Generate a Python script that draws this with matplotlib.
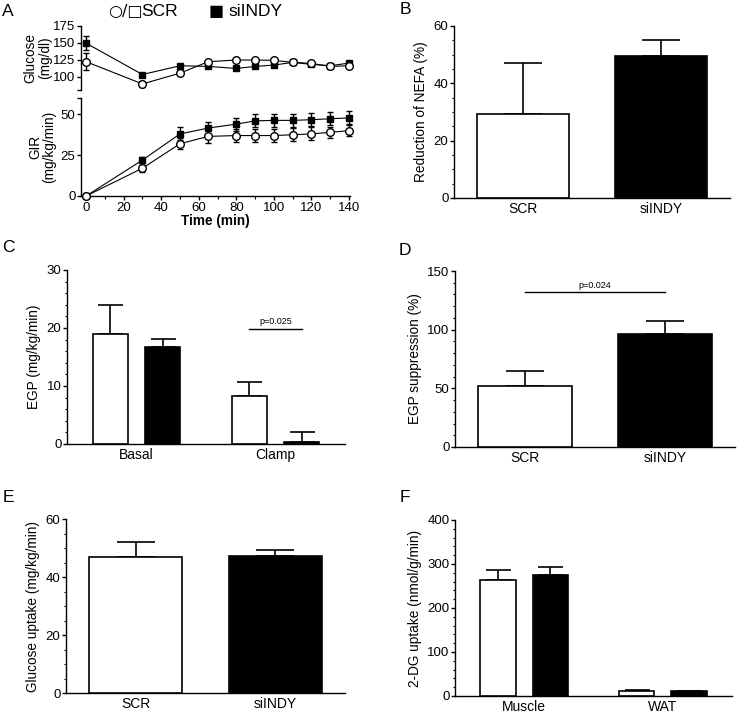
import numpy as np
import matplotlib
matplotlib.use("Agg")
import matplotlib.pyplot as plt
from matplotlib.ticker import AutoMinorLocator, MultipleLocator

plt.rcParams['font.family'] = ['Liberation Sans', 'DejaVu Sans']
plt.rcParams['font.size'] = 9
plt.rcParams['axes.linewidth'] = 1.0

# ---- data ----
time = [0, 30, 50, 65, 80, 90, 100, 110, 120, 130, 140]
glu_scr = [122, 89, 105, 122, 124.5, 124.5, 124, 121, 119.5, 115, 116]
glu_scr_err = [13, 4, 2, 3, 2, 2, 2, 2, 2, 2, 2]
glu_si = [149.5, 103, 116, 115, 112, 115, 117, 121, 118, 116, 120]
glu_si_err = [10, 2, 2, 2, 2, 2, 2, 2, 2, 2, 2]
gir_scr = [0, 17, 32, 36.5, 37, 37, 37, 37.5, 38, 39, 40]
gir_scr_err = [0.5, 2, 3.5, 4, 4, 4, 4, 4, 4, 3.5, 3.5]
gir_si = [0, 22, 38, 41.6, 44, 46, 46.3, 46.3, 46.7, 47.3, 47.8]
gir_si_err = [0.5, 2, 4, 4, 4, 4, 4, 4, 4, 4, 4]

groups = ['SCR', 'siINDY']
nefa = [29.2, 49.7]
nefa_err = [17.8, 5.4]

egp_cats = ['Basal', 'Clamp']
egp_scr = [18.9, 8.2]
egp_scr_err = [5.0, 2.5]
egp_si = [16.7, 0.3]
egp_si_err = [1.4, 1.8]

egp_supp = [52.4, 96.5]
egp_supp_err = [12.5, 11.1]

glc_uptake = [46.8, 47.1]
glc_uptake_err = [5.4, 2.2]

dg_cats = ['Muscle', 'WAT']
dg_scr = [263, 11.4]
dg_scr_err = [24, 2.3]
dg_si = [276, 10.6]
dg_si_err = [17, 1.4]

W, H = 740, 713
fig = plt.figure(figsize=(W / 100, H / 100), dpi=100)

TICK = 9.5
LABEL = 9.8


def axes_px(left, top, right, bottom):
    return fig.add_axes([left / W, 1 - bottom / H, (right - left) / W, (bottom - top) / H])


def style(ax, ymax, major, nminor):
    for s in ['top', 'right']:
        ax.spines[s].set_visible(False)
    ax.set_ylim(0, ymax)
    ax.yaxis.set_major_locator(MultipleLocator(major))
    ax.yaxis.set_minor_locator(AutoMinorLocator(nminor))
    ax.tick_params(axis='y', direction='out', length=3, width=1, labelsize=TICK, pad=1)
    ax.tick_params(axis='y', which='minor', length=1.8, width=0.8)
    ax.tick_params(axis='x', length=0, labelsize=10, pad=3)


def two_bars(ax, vals, errs, capsize):
    x = np.arange(len(vals))
    colors = ['white', 'black']
    ax.bar(x, vals, width=0.67, color=colors, edgecolor='black', linewidth=1.2, zorder=3)
    ax.errorbar(x, vals, yerr=[np.zeros(len(vals)), errs], fmt='none', ecolor='black',
                elinewidth=1.2, capsize=capsize, capthick=1.2, zorder=2)
    ax.set_xlim(-0.5, 1.5)
    ax.set_xticks(x)
    ax.set_xticklabels(groups)


def grouped_bars(ax, scr, scr_err, si, si_err, cats, capsize):
    x = np.arange(len(cats))
    off, w = 0.188, 0.256
    ax.bar(x - off, scr, width=w, color='white', edgecolor='black', linewidth=1.2, zorder=3)
    ax.bar(x + off, si, width=w, color='black', edgecolor='black', linewidth=1.2, zorder=3)
    ax.errorbar(x - off, scr, yerr=[np.zeros(len(scr)), scr_err], fmt='none', ecolor='black',
                elinewidth=1.2, capsize=capsize, capthick=1.2, zorder=2)
    ax.errorbar(x + off, si, yerr=[np.zeros(len(si)), si_err], fmt='none', ecolor='black',
                elinewidth=1.2, capsize=capsize, capthick=1.2, zorder=2)
    ax.set_xlim(-0.5, 1.5)
    ax.set_xticks(x)
    ax.set_xticklabels(cats)
    return off


# ---- panel A ----
axg = axes_px(81, 26, 350, 90)
axr = axes_px(81, 98, 350, 196)
for ax in (axg, axr):
    ax.set_xlim(-2.7, 140.5)
    ax.spines['top'].set_visible(False)
    ax.spines['right'].set_visible(False)
    ax.tick_params(axis='y', direction='out', length=3, width=1, labelsize=TICK, pad=1)
axg.spines['bottom'].set_visible(False)
axg.set_xticks([])
axg.set_ylim(80, 175)
axg.set_yticks([80, 100, 125, 150, 175])
axg.set_yticklabels(['', '100', '125', '150', '175'])
axr.set_ylim(0, 60)
axr.set_yticks([0, 25, 50, 60])
axr.set_yticklabels(['0', '25', '50', ''])
axr.set_xticks(range(0, 141, 20))
axr.xaxis.set_minor_locator(MultipleLocator(10))
axr.tick_params(axis='x', direction='out', length=3, width=1, labelsize=TICK, pad=1)
axr.tick_params(axis='x', which='minor', length=2, width=0.8)

for ax, s, se, g, ge in ((axg, glu_scr, glu_scr_err, glu_si, glu_si_err),
                         (axr, gir_scr, gir_scr_err, gir_si, gir_si_err)):
    ax.errorbar(time, g, yerr=ge, color='black', marker='s', markersize=5, mfc='black',
                mec='black', lw=0.8, elinewidth=1, capsize=2.5, capthick=1, zorder=3,
                clip_on=False)
    ax.errorbar(time, s, yerr=se, color='black', marker='o', markersize=5.5, mfc='white',
                mec='black', mew=1, lw=0.8, elinewidth=1, capsize=2.5, capthick=1, zorder=4,
                clip_on=False)

axg.set_ylabel('Glucose\n(mg/dl)', fontsize=LABEL, labelpad=1, linespacing=1.05)
axr.set_ylabel('GIR\n(mg/kg/min)', fontsize=LABEL, labelpad=3, linespacing=1.05)
axr.set_xlabel('Time (min)', fontsize=LABEL, fontweight='bold', labelpad=0)

# legend text above panel A
fig.text(108 / W, 1 - 12 / H, '\u25cb/\u25a1', fontsize=11.5, va='center', ha='left',
         family=['DejaVu Sans'])
fig.text(141 / W, 1 - 12 / H, 'SCR', fontsize=12.5, va='center', ha='left')
fig.text(209 / W, 1 - 12 / H, '\u25a0', fontsize=11.5, va='center', ha='left',
         family=['DejaVu Sans'])
fig.text(228 / W, 1 - 12 / H, 'siINDY', fontsize=12.5, va='center', ha='left')

# ---- panel B ----
axB = axes_px(454, 26, 730, 198)
style(axB, 60, 20, 4)
two_bars(axB, nefa, nefa_err, 14)
axB.set_ylabel('Reduction of NEFA (%)', fontsize=LABEL, labelpad=4)

# ---- panel C ----
axC = axes_px(67, 270, 345, 444)
style(axC, 30, 10, 5)
off = grouped_bars(axC, egp_scr, egp_scr_err, egp_si, egp_si_err, egp_cats, 9)
axC.set_ylabel('EGP (mg/kg/min)', fontsize=LABEL, labelpad=4)
axC.plot([1 - off, 1 + off], [19.8, 19.8], color='black', lw=1)
axC.text(1, 20.4, 'p=0.025', fontsize=6.5, ha='center', va='bottom')

# ---- panel D ----
axD = axes_px(455, 271, 735, 447)
style(axD, 150, 50, 5)
two_bars(axD, egp_supp, egp_supp_err, 14)
axD.set_ylabel('EGP suppression (%)', fontsize=LABEL, labelpad=4)
axD.plot([0, 1], [131.8, 131.8], color='black', lw=1)
axD.text(0.5, 134, 'p=0.024', fontsize=6.5, ha='center', va='bottom')

# ---- panel E ----
axE = axes_px(66, 519, 345, 693)
style(axE, 60, 20, 4)
two_bars(axE, glc_uptake, glc_uptake_err, 14)
axE.set_ylabel('Glucose uptake (mg/kg/min)', fontsize=LABEL, labelpad=4)

# ---- panel F ----
axF = axes_px(455, 520, 732, 696)
style(axF, 400, 100, 5)
grouped_bars(axF, dg_scr, dg_scr_err, dg_si, dg_si_err, dg_cats, 9)
axF.set_ylabel('2-DG uptake (nmol/g/min)', fontsize=LABEL, labelpad=4)

# panel letters
for lab, xp, yp in (('A', 8, 11), ('B', 405, 10), ('C', 8, 248), ('D', 405, 250),
                    ('E', 8, 498), ('F', 405, 498)):
    fig.text(xp / W, 1 - yp / H, lab, fontsize=12.5, ha='center', va='center')

fig.savefig('out.png', dpi=100)
